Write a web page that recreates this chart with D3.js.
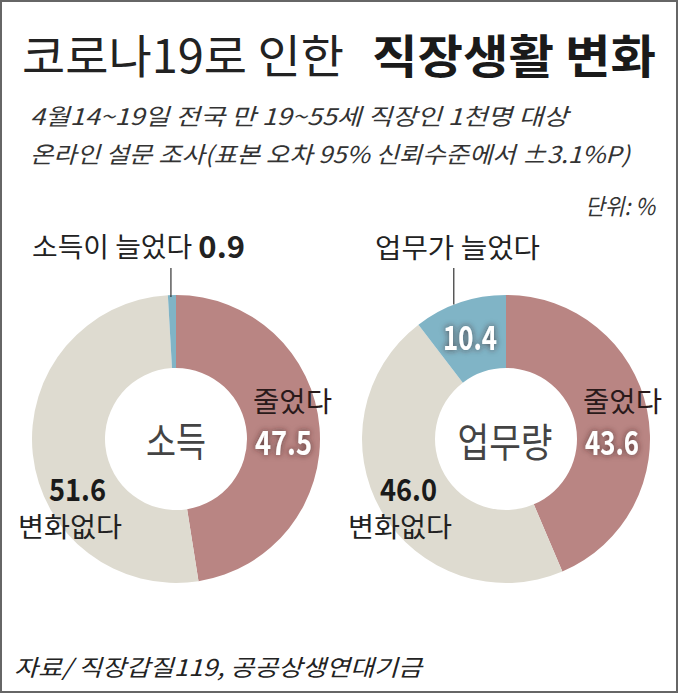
<!DOCTYPE html>
<html><head><meta charset="utf-8">
<script src="https://cdn.jsdelivr.net/npm/d3@7"></script>
<style>
html,body{margin:0;padding:0;background:#fff;}
svg{display:block;}
text{font-family:"Noto Sans CJK KR","Noto Sans",sans-serif;}
</style></head>
<body>
<script>
// ---- data ----
const categories = ["줄었다", "변화없다", "늘었다"];
const incomeValues = [47.5, 51.6, 0.9];
const workValues = [43.6, 46.0, 10.4];
const chartNames = ["소득", "업무량"];
const increaseLabels = ["소득이 늘었다", "업무가 늘었다"];
const titleLight = "코로나19로 인한";
const titleBold = "직장생활 변화";
const subtitle1 = "4월14~19일 전국 만 19~55세 직장인 1천명 대상";
const subtitle2 = "온라인 설문 조사(표본 오차 95% 신뢰수준에서 ±3.1%P)";
const unitLabel = "단위: %";
const sourceLabel = "자료/ 직장갑질119, 공공상생연대기금";

const W = 679, H = 696;
const colors = d3.scaleOrdinal().domain(categories).range(["#b98583", "#dedbd0", "#80b4c6"]);

const svg = d3.select("body").append("svg").attr("width", W).attr("height", H);

const defs = svg.append("defs");
const f = defs.append("filter").attr("id", "shadow").attr("x", "-30%").attr("y", "-40%").attr("width", "160%").attr("height", "180%");
f.append("feGaussianBlur").attr("in", "SourceAlpha").attr("stdDeviation", 3).attr("result", "b");
f.append("feFlood").attr("flood-color", "#3a2020").attr("flood-opacity", 0.75).attr("result", "c");
f.append("feComposite").attr("in", "c").attr("in2", "b").attr("operator", "in").attr("result", "s");
const fm = f.append("feMerge");
fm.append("feMergeNode").attr("in", "s");
fm.append("feMergeNode").attr("in", "SourceGraphic");

// border
svg.append("rect").attr("x", 1).attr("y", 1).attr("width", W - 3).attr("height", H - 5)
  .attr("fill", "none").attr("stroke", "#666").attr("stroke-width", 2);

function txt(x, y, s, opt) {
  const t = svg.append("text").attr("x", x).attr("y", y).attr("dominant-baseline", "central")
    .attr("font-size", opt.size).attr("fill", opt.fill || "#222")
    .attr("font-weight", opt.weight || 400)
    .attr("text-anchor", opt.anchor || "start")
    .text(s);
  if (opt.italic) t.attr("font-style", "italic");
  if (opt.len) t.attr("textLength", opt.len).attr("lengthAdjust", "spacingAndGlyphs");
  if (opt.filter) t.attr("filter", opt.filter);
  return t;
}

// titles
txt(22, 53, titleLight, {size: 46, fill: "#222", len: 322});
txt(372, 53, titleBold, {size: 46, fill: "#1a1a1a", weight: 700, len: 284});
txt(30, 115, subtitle1, {size: 23, italic: true, fill: "#333", len: 538});
txt(30, 153, subtitle2, {size: 23, italic: true, fill: "#333", len: 600});
txt(655, 205, unitLabel, {size: 23, italic: true, fill: "#333", anchor: "end", len: 70});
txt(14, 666, sourceLabel, {size: 23, italic: true, fill: "#222", len: 408});

// donuts
const rOuter = 144, rInner = 71, cy = 439;
const centers = [176, 506];
const pie = d3.pie().sort(null).value(d => d);
const arc = d3.arc().innerRadius(rInner).outerRadius(rOuter);
const outerArc = d3.arc().innerRadius(rOuter).outerRadius(rOuter);

[incomeValues, workValues].forEach((vals, i) => {
  const cx = centers[i];
  const g = svg.append("g").attr("transform", `translate(${cx},${cy})`);
  const arcs = pie(vals);
  g.selectAll("path").data(arcs).join("path")
    .attr("d", arc)
    .attr("fill", (d, j) => colors(categories[j]));
  // leader line for increase slice
  const inc = arcs[2];
  const p = outerArc.centroid(inc);
  const lx = i === 0 ? p[0] - 1 : p[0] - 6;
  g.append("line").attr("x1", lx).attr("x2", lx).attr("y1", p[1] + 2).attr("y2", 268 - cy)
    .attr("stroke", "#333").attr("stroke-width", 1.2);
});

const fmt = d3.format(".1f");

// left chart labels
txt(176, 439, chartNames[0], {size: 40, fill: "#444", anchor: "middle", len: 60});
txt(253, 400, categories[0], {size: 28, fill: "#2a1a1a", len: 79});
txt(255, 441, fmt(incomeValues[0]), {size: 33, fill: "#fff", weight: 700, len: 57, filter: "url(#shadow)"});
txt(49, 487, fmt(incomeValues[1]), {size: 31, fill: "#1a1a1a", weight: 700, len: 57});
txt(18, 525, categories[1], {size: 27, fill: "#222", len: 104});
{
  const t = svg.append("text").attr("x", 32).attr("y", 245).attr("dominant-baseline", "central")
    .attr("font-size", 27).attr("fill", "#222")
    .attr("textLength", 213).attr("lengthAdjust", "spacingAndGlyphs");
  t.append("tspan").text(increaseLabels[0] + " ");
  t.append("tspan").attr("font-weight", 700).attr("font-size", 30).text(fmt(incomeValues[2]));
}

// right chart labels
txt(505, 440, chartNames[1], {size: 40, fill: "#444", anchor: "middle", len: 95});
txt(583, 400, categories[0], {size: 28, fill: "#2a1a1a", len: 79});
txt(585, 441, fmt(workValues[0]), {size: 33, fill: "#fff", weight: 700, len: 54, filter: "url(#shadow)"});
txt(443, 336, fmt(workValues[2]), {size: 33, fill: "#fff", weight: 700, len: 54, filter: "url(#shadow)"});
txt(380, 487, fmt(workValues[1]), {size: 31, fill: "#1a1a1a", weight: 700, len: 57});
txt(348, 525, categories[1], {size: 27, fill: "#222", len: 104});
txt(375, 246, increaseLabels[1], {size: 27, fill: "#222", len: 165});
</script>
</body></html>
